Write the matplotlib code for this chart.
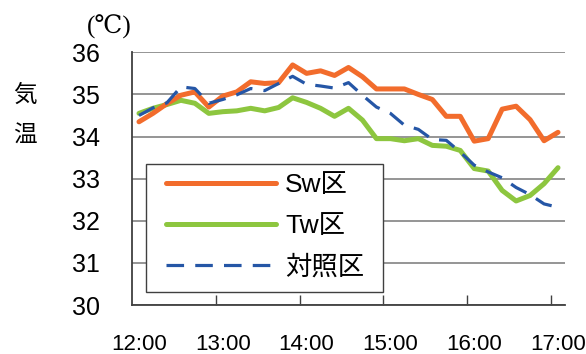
import numpy as np
import matplotlib
matplotlib.use("Agg")
import matplotlib.pyplot as plt
from matplotlib.font_manager import FontProperties
from matplotlib.patches import Rectangle

# 10-minute readings, 12:00 .. 17:00
tick_labels = ["12:00", "13:00", "14:00", "15:00", "16:00", "17:00"]
sw = [34.35, 34.55, 34.78, 34.98, 35.06, 34.70, 34.96, 35.06, 35.30, 35.26, 35.28,
      35.70, 35.50, 35.56, 35.45, 35.64, 35.42, 35.13, 35.13, 35.13, 35.00,
      34.88, 34.48, 34.48, 33.89, 33.95, 34.65, 34.72, 34.40, 33.90, 34.10]
tw = [34.55, 34.67, 34.76, 34.86, 34.79, 34.55, 34.59, 34.61, 34.67, 34.61, 34.69,
      34.92, 34.81, 34.67, 34.48, 34.67, 34.39, 33.95, 33.95, 33.90, 33.95,
      33.79, 33.77, 33.67, 33.24, 33.18, 32.72, 32.47, 32.60, 32.88, 33.26]
ctrl = [34.50, 34.68, 34.80, 35.18, 35.14, 34.79, 34.88, 34.99, 35.14, 35.09, 35.26,
        35.43, 35.24, 35.20, 35.15, 35.28, 34.98, 34.70, 34.55, 34.27, 34.17,
        33.93, 33.91, 33.63, 33.32, 33.16, 33.02, 32.79, 32.62, 32.40, 32.32]
series_names = ["Sw区", "Tw区", "対照区"]

W, H = 586, 354
fig = plt.figure(figsize=(W / 100, H / 100), dpi=100)
ax = fig.add_axes([132 / W, 1 - 305 / H, 433 / W, (305 - 52.3) / H])

x = np.arange(len(sw))
l_sw, = ax.plot(x, sw, color="#F26C2C", lw=3.6, solid_joinstyle="round",
                solid_capstyle="round", zorder=3)
l_tw, = ax.plot(x, tw, color="#8DC63F", lw=3.6, solid_joinstyle="round",
                solid_capstyle="round", zorder=2)
l_ct, = ax.plot(x, ctrl, color="#2556A6", lw=2.3, dashes=(5.5, 3.5), zorder=4)

ax.set_xlim(-0.5, len(sw) - 0.5)
ax.set_ylim(30, 36)
ax.set_yticks(range(30, 37))
ax.yaxis.grid(True, color="#8c8c8c", lw=1.3)
ax.set_axisbelow(True)
for s in ["top", "right"]:
    ax.spines[s].set_visible(False)
for s in ["left", "bottom"]:
    ax.spines[s].set_color("#404040")
    ax.spines[s].set_linewidth(1.3)

ax.set_xticks(np.arange(0, len(sw), 6))
ax.set_xticklabels(tick_labels)
ax.set_xticks(np.arange(5.5, len(sw), 6), minor=True)
ax.tick_params(axis="x", which="major", length=0, pad=21, labelsize=16)
ax.tick_params(axis="x", which="minor", direction="in", length=7, width=1, color="#404040")
ax.tick_params(axis="y", length=0, pad=23, labelsize=18)
for t in ax.get_xticklabels() + ax.get_yticklabels():
    t.set_family("Liberation Sans")

# legend frame drawn by hand, entries placed inside it
frame = Rectangle((146 / W, 1 - 292 / H), 237 / W, 128 / H, transform=fig.transFigure,
                  facecolor="white", edgecolor="#404040", lw=1.0, zorder=6, clip_on=False)
ax.add_patch(frame)
leg_font = FontProperties(family=["Liberation Sans", "Noto Sans CJK JP"], size=19)
leg = ax.legend([l_sw, l_tw, l_ct], series_names, loc="upper left",
                bbox_to_anchor=(166 / W, 1 - 173 / H), bbox_transform=fig.transFigure,
                prop=leg_font, handlelength=4.17, handletextpad=0.34, labelspacing=0.64,
                borderpad=0, borderaxespad=0, frameon=False)
leg.set_zorder(7)

cjk = ["Noto Sans CJK JP", "DejaVu Sans"]
fig.text(25 / W, 1 - 95 / H, "気", family=cjk, size=17, ha="center", va="center")
fig.text(25 / W, 1 - 136 / H, "温", family=cjk, size=17, ha="center", va="center")
fig.text(109 / W, 1 - 27 / H, "(℃)", family=["Liberation Serif", "DejaVu Serif"],
         size=18, ha="center", va="center")

fig.savefig("out.png", dpi=100)
